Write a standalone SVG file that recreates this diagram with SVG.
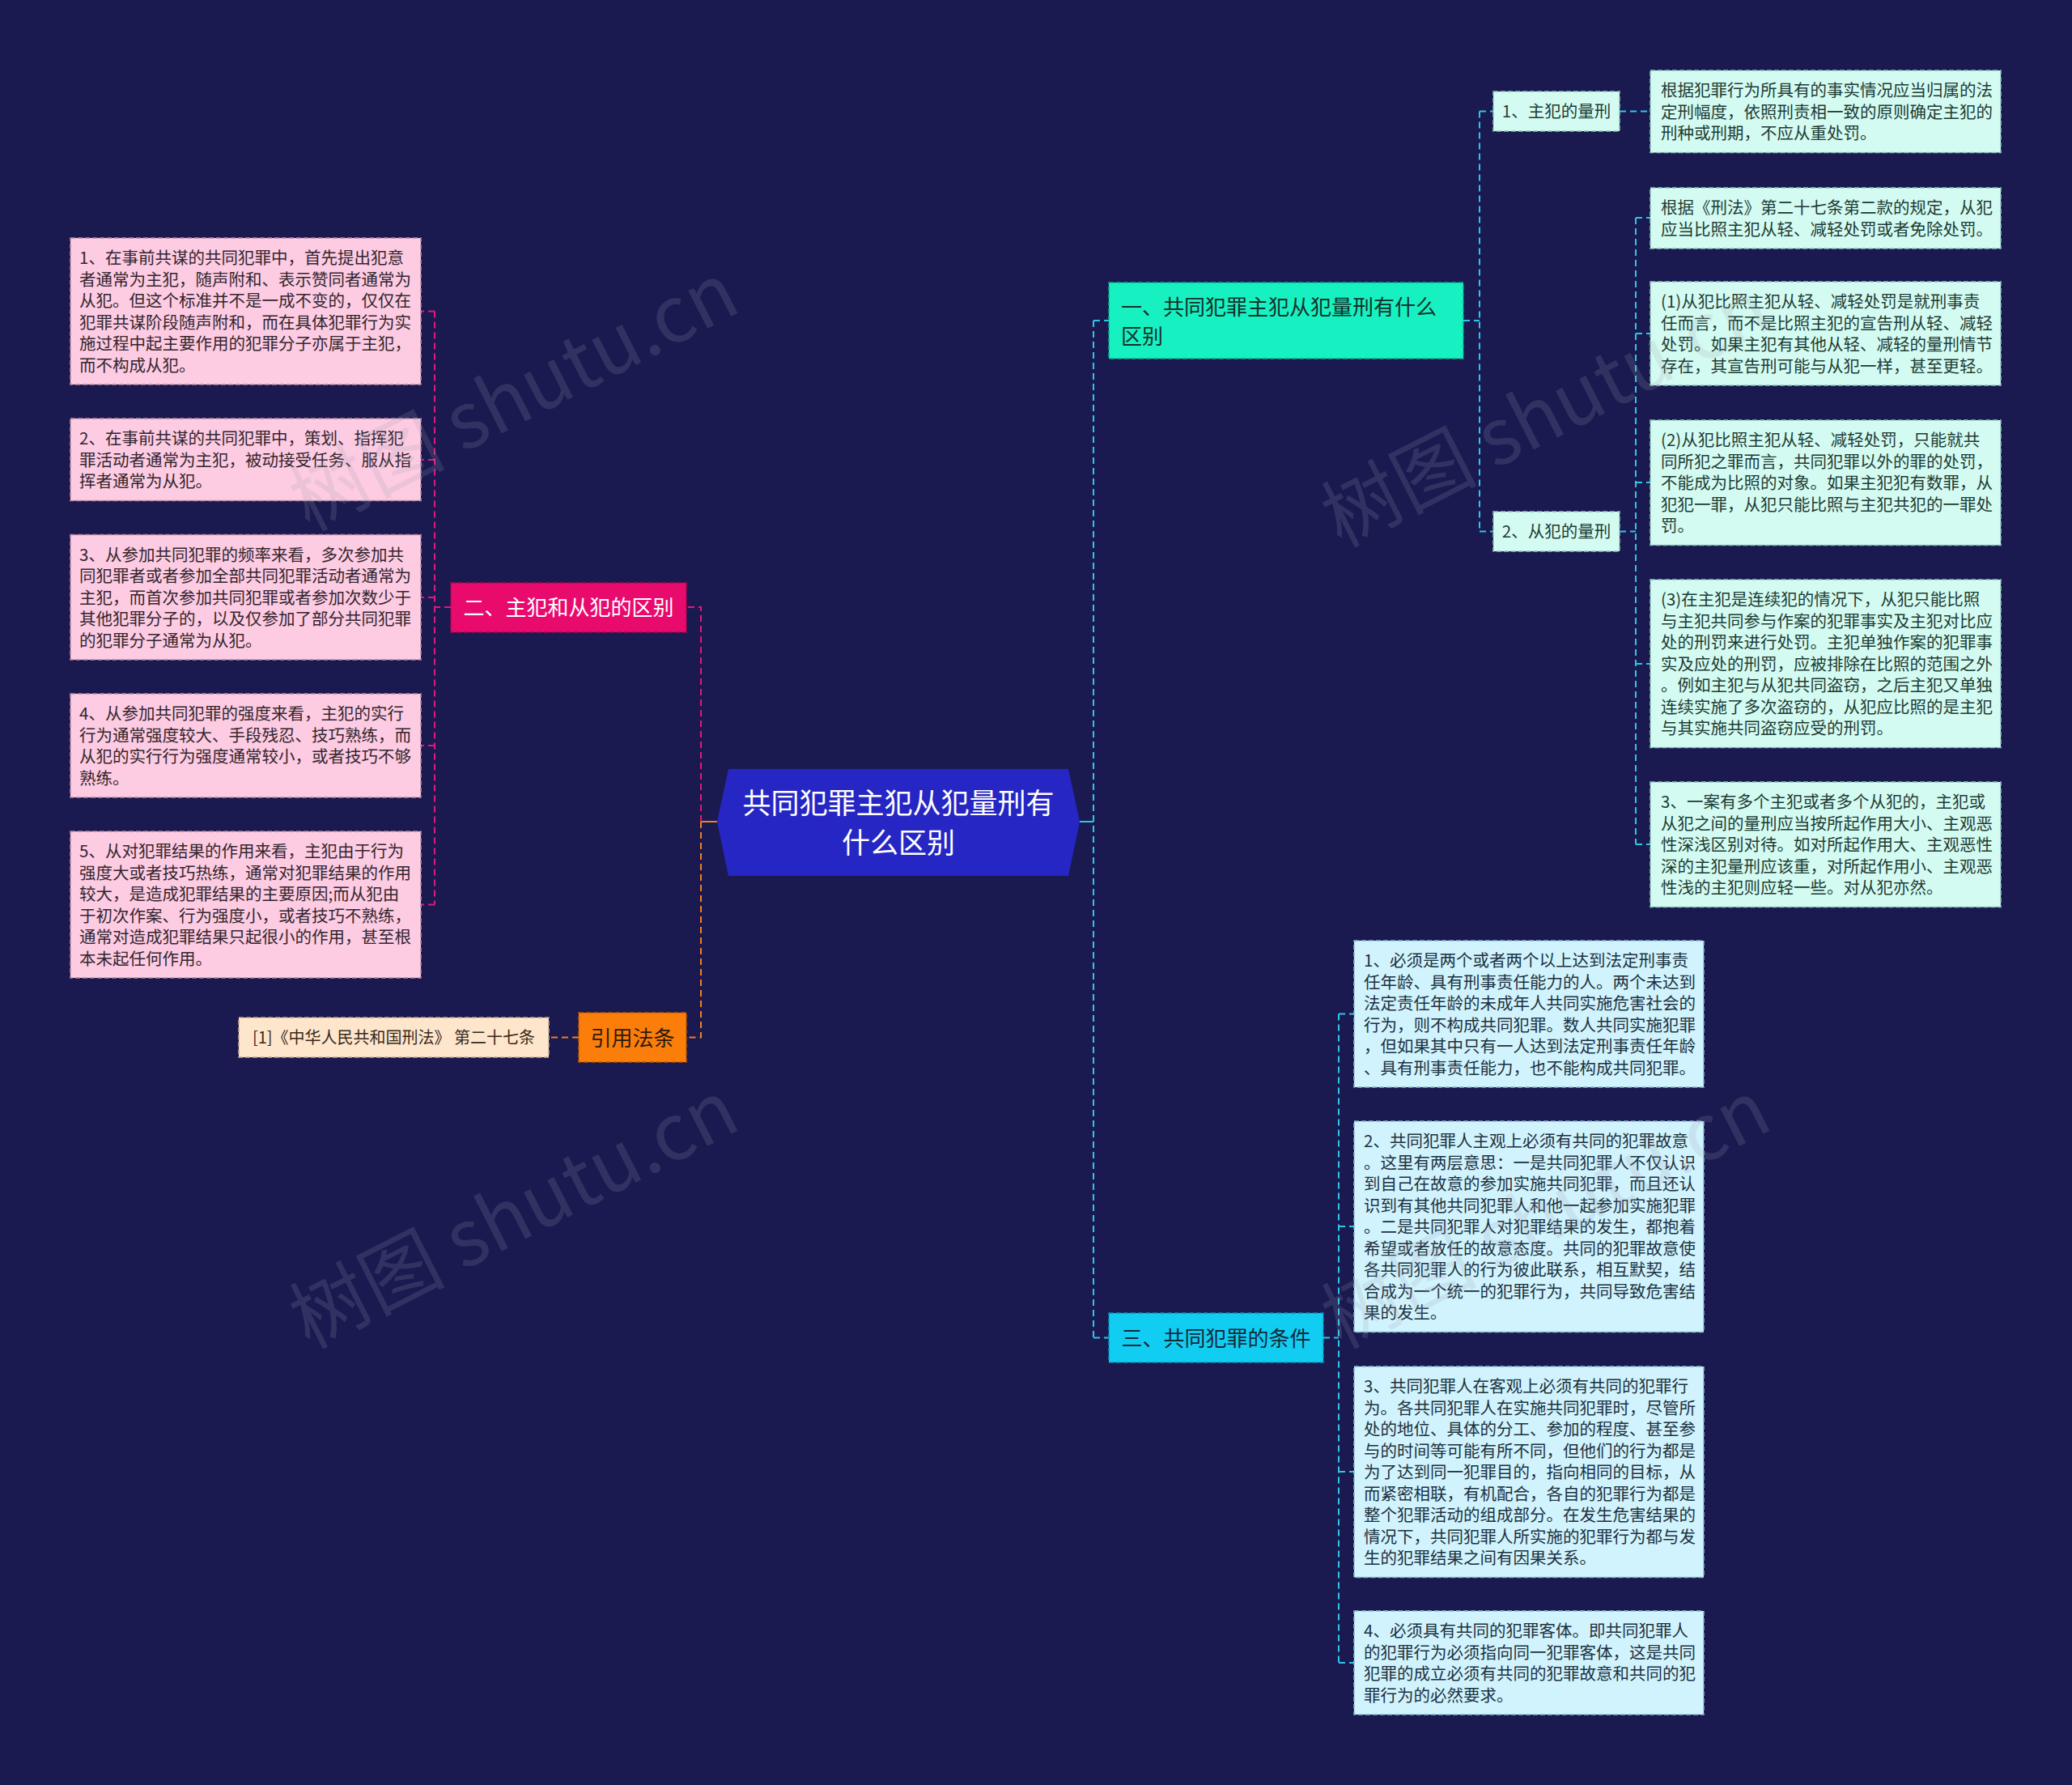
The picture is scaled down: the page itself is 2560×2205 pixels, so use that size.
<svg xmlns="http://www.w3.org/2000/svg" width="2560" height="2205" viewBox="0 0 2560 2205">
<style>
text{font-family:"Noto Sans CJK SC","Liberation Sans",sans-serif;}
.leaf{font-size:20.5px;}
.pl{fill:#fdcbe2;stroke:#b88aa2;stroke-width:1.5;stroke-dasharray:6 3;}
.ml{fill:#d4fbf1;stroke:#8cc4b8;stroke-width:1.5;stroke-dasharray:6 3;}
.bl{fill:#d0f3fd;stroke:#8ab8cc;stroke-width:1.5;stroke-dasharray:6 3;}
.pt{fill:#33262e;}
.mt{fill:#1d3b35;}
.bt{fill:#1d3140;}
.cp{fill:none;stroke:#e0197c;stroke-width:2;stroke-dasharray:8 5;}
.co{fill:none;stroke:#f08020;stroke-width:2;stroke-dasharray:8 5;}
.cc{fill:none;stroke:#2cc6e6;stroke-width:2;stroke-dasharray:8 5;}
.wm{font-size:96px;fill:#a0a0b4;opacity:0.18;}
</style>
<rect width="2560" height="2205" fill="#1a1a50"/>

<g id="connectors">
  <path class="co" d="M866 1015 H886" style="stroke-dasharray:none"/>
  <path class="cp" d="M866 1015 V750 H848"/>
  <path class="co" d="M866 1015 V1281.5 H848"/>
  <path class="co" d="M715 1281.5 H678"/>
  <path class="cp" d="M557 750 H537"/>
  <path class="cp" d="M537 384.5 V1117.5"/>
  <path class="cp" d="M537 384.5 H520 M537 568 H520 M537 738 H520 M537 921 H520 M537 1117.5 H520"/>
  <path class="cc" d="M1334 1015 H1351" style="stroke-dasharray:none"/>
  <path class="cc" d="M1351 396 V1652.5"/>
  <path class="cc" d="M1351 396 H1370 M1351 1652.5 H1370"/>
  <path class="cc" d="M1808 396 H1828 M1828 137.5 V656.5 M1828 137.5 H1845 M1828 656.5 H1845"/>
  <path class="cc" d="M2001 137.5 H2039"/>
  <path class="cc" d="M2001 656.5 H2021 M2021 269 V1043 M2021 269 H2039 M2021 412 H2039 M2021 596 H2039 M2021 820 H2039 M2021 1043 H2039"/>
  <path class="cc" d="M1635 1652.5 H1654 M1654 1252.5 V2054 M1654 1252.5 H1673 M1654 1515 H1673 M1654 1818 H1673 M1654 2054 H1673"/>
</g>

<g id="center">
  <polygon points="900,950 1320,950 1334,1015 1320,1082 900,1082 886,1015" fill="#2626c4"/>
  <text x="1110" y="1005" font-size="35" fill="#ffffff" text-anchor="middle">共同犯罪主犯从犯量刑有</text>
  <text x="1110" y="1054" font-size="35" fill="#ffffff" text-anchor="middle">什么区别</text>
</g>

<g id="branch2">
  <rect x="557" y="720" width="291" height="61" fill="#e90a6e" stroke="#a8084e" stroke-width="1.5" stroke-dasharray="6 3"/>
  <text x="702.5" y="760" font-size="26" fill="#ffffff" text-anchor="middle">二、主犯和从犯的区别</text>
</g>

<g id="leafL1">
  <rect class="pl" x="87" y="294" width="433" height="181"/>
  <text class="leaf pt" x="98" y="326"><tspan x="98">1、在事前共谋的共同犯罪中，首先提出犯意</tspan><tspan x="98" dy="26.5">者通常为主犯，随声附和、表示赞同者通常为</tspan><tspan x="98" dy="26.5">从犯。但这个标准并不是一成不变的，仅仅在</tspan><tspan x="98" dy="26.5">犯罪共谋阶段随声附和，而在具体犯罪行为实</tspan><tspan x="98" dy="26.5">施过程中起主要作用的犯罪分子亦属于主犯，</tspan><tspan x="98" dy="26.5">而不构成从犯。</tspan></text>
</g>
<g id="leafL2">
  <rect class="pl" x="87" y="517" width="433" height="101.5"/>
  <text class="leaf pt" x="98" y="549"><tspan x="98">2、在事前共谋的共同犯罪中，策划、指挥犯</tspan><tspan x="98" dy="26.5">罪活动者通常为主犯，被动接受任务、服从指</tspan><tspan x="98" dy="26.5">挥者通常为从犯。</tspan></text>
</g>
<g id="leafL3">
  <rect class="pl" x="87" y="660.5" width="433" height="154.5"/>
  <text class="leaf pt" x="98" y="692.5"><tspan x="98">3、从参加共同犯罪的频率来看，多次参加共</tspan><tspan x="98" dy="26.5">同犯罪者或者参加全部共同犯罪活动者通常为</tspan><tspan x="98" dy="26.5">主犯，而首次参加共同犯罪或者参加次数少于</tspan><tspan x="98" dy="26.5">其他犯罪分子的，以及仅参加了部分共同犯罪</tspan><tspan x="98" dy="26.5">的犯罪分子通常为从犯。</tspan></text>
</g>
<g id="leafL4">
  <rect class="pl" x="87" y="857" width="433" height="128"/>
  <text class="leaf pt" x="98" y="889"><tspan x="98">4、从参加共同犯罪的强度来看，主犯的实行</tspan><tspan x="98" dy="26.5">行为通常强度较大、手段残忍、技巧熟练，而</tspan><tspan x="98" dy="26.5">从犯的实行行为强度通常较小，或者技巧不够</tspan><tspan x="98" dy="26.5">熟练。</tspan></text>
</g>
<g id="leafL5">
  <rect class="pl" x="87" y="1027" width="433" height="181"/>
  <text class="leaf pt" x="98" y="1059"><tspan x="98">5、从对犯罪结果的作用来看，主犯由于行为</tspan><tspan x="98" dy="26.5">强度大或者技巧热练，通常对犯罪结果的作用</tspan><tspan x="98" dy="26.5">较大，是造成犯罪结果的主要原因;而从犯由</tspan><tspan x="98" dy="26.5">于初次作案、行为强度小，或者技巧不熟练，</tspan><tspan x="98" dy="26.5">通常对造成犯罪结果只起很小的作用，甚至根</tspan><tspan x="98" dy="26.5">本未起任何作用。</tspan></text>
</g>

<g id="refnode">
  <rect x="715" y="1251" width="133" height="61" fill="#fb7d0a" stroke="#b85a00" stroke-width="1.5" stroke-dasharray="6 3"/>
  <text x="781.5" y="1291.5" font-size="26" fill="#2d1a0a" text-anchor="middle">引用法条</text>
</g>
<g id="refleaf">
  <rect x="295" y="1257" width="383" height="49" fill="#fde6cc" stroke="#c8a888" stroke-width="1.5" stroke-dasharray="6 3"/>
  <text x="486.5" y="1289" font-size="20" fill="#3a2a1a" text-anchor="middle">[1]《中华人民共和国刑法》 第二十七条</text>
</g>

<g id="branch1">
  <rect x="1370" y="349" width="438" height="94" fill="#17f1c1" stroke="#0aa888" stroke-width="1.5" stroke-dasharray="6 3"/>
  <text x="1385" y="389" font-size="26" fill="#13302a"><tspan x="1385">一、共同犯罪主犯从犯量刑有什么</tspan><tspan x="1385" dy="36">区别</tspan></text>
</g>
<g id="sub1">
  <rect class="ml" x="1845" y="113" width="156" height="49"/>
  <text class="leaf mt" x="1923" y="145" text-anchor="middle">1、主犯的量刑</text>
</g>
<g id="sub2">
  <rect class="ml" x="1845" y="632" width="156" height="49"/>
  <text class="leaf mt" x="1923" y="664" text-anchor="middle">2、从犯的量刑</text>
</g>
<g id="leafR1">
  <rect class="ml" x="2039" y="87" width="433" height="101.5"/>
  <text class="leaf mt" x="2052" y="119"><tspan x="2052">根据犯罪行为所具有的事实情况应当归属的法</tspan><tspan x="2052" dy="26.5">定刑幅度，依照刑责相一致的原则确定主犯的</tspan><tspan x="2052" dy="26.5">刑种或刑期，不应从重处罚。</tspan></text>
</g>
<g id="leafR2">
  <rect class="ml" x="2039" y="232" width="433" height="75"/>
  <text class="leaf mt" x="2052" y="264"><tspan x="2052">根据《刑法》第二十七条第二款的规定，从犯</tspan><tspan x="2052" dy="26.5">应当比照主犯从轻、减轻处罚或者免除处罚。</tspan></text>
</g>
<g id="leafR3">
  <rect class="ml" x="2039" y="348" width="433" height="128"/>
  <text class="leaf mt" x="2052" y="380"><tspan x="2052">(1)从犯比照主犯从轻、减轻处罚是就刑事责</tspan><tspan x="2052" dy="26.5">任而言，而不是比照主犯的宣告刑从轻、减轻</tspan><tspan x="2052" dy="26.5">处罚。如果主犯有其他从轻、减轻的量刑情节</tspan><tspan x="2052" dy="26.5">存在，其宣告刑可能与从犯一样，甚至更轻。</tspan></text>
</g>
<g id="leafR4">
  <rect class="ml" x="2039" y="519" width="433" height="154.5"/>
  <text class="leaf mt" x="2052" y="551"><tspan x="2052">(2)从犯比照主犯从轻、减轻处罚，只能就共</tspan><tspan x="2052" dy="26.5">同所犯之罪而言，共同犯罪以外的罪的处罚，</tspan><tspan x="2052" dy="26.5">不能成为比照的对象。如果主犯犯有数罪，从</tspan><tspan x="2052" dy="26.5">犯犯一罪，从犯只能比照与主犯共犯的一罪处</tspan><tspan x="2052" dy="26.5">罚。</tspan></text>
</g>
<g id="leafR5">
  <rect class="ml" x="2039" y="716" width="433" height="207.5"/>
  <text class="leaf mt" x="2052" y="748"><tspan x="2052">(3)在主犯是连续犯的情况下，从犯只能比照</tspan><tspan x="2052" dy="26.5">与主犯共同参与作案的犯罪事实及主犯对比应</tspan><tspan x="2052" dy="26.5">处的刑罚来进行处罚。主犯单独作案的犯罪事</tspan><tspan x="2052" dy="26.5">实及应处的刑罚，应被排除在比照的范围之外</tspan><tspan x="2052" dy="26.5">。例如主犯与从犯共同盗窃，之后主犯又单独</tspan><tspan x="2052" dy="26.5">连续实施了多次盗窃的，从犯应比照的是主犯</tspan><tspan x="2052" dy="26.5">与其实施共同盗窃应受的刑罚。</tspan></text>
</g>
<g id="leafR6">
  <rect class="ml" x="2039" y="966" width="433" height="154.5"/>
  <text class="leaf mt" x="2052" y="998"><tspan x="2052">3、一案有多个主犯或者多个从犯的，主犯或</tspan><tspan x="2052" dy="26.5">从犯之间的量刑应当按所起作用大小、主观恶</tspan><tspan x="2052" dy="26.5">性深浅区别对待。如对所起作用大、主观恶性</tspan><tspan x="2052" dy="26.5">深的主犯量刑应该重，对所起作用小、主观恶</tspan><tspan x="2052" dy="26.5">性浅的主犯则应轻一些。对从犯亦然。</tspan></text>
</g>

<g id="branch3">
  <rect x="1370" y="1622" width="265" height="61" fill="#12cdf2" stroke="#0890b0" stroke-width="1.5" stroke-dasharray="6 3"/>
  <text x="1502.5" y="1662.5" font-size="26" fill="#132a38" text-anchor="middle">三、共同犯罪的条件</text>
</g>
<g id="leafC1">
  <rect class="bl" x="1673" y="1162" width="432" height="181"/>
  <text class="leaf bt" x="1685" y="1194"><tspan x="1685">1、必须是两个或者两个以上达到法定刑事责</tspan><tspan x="1685" dy="26.5">任年龄、具有刑事责任能力的人。两个未达到</tspan><tspan x="1685" dy="26.5">法定责任年龄的未成年人共同实施危害社会的</tspan><tspan x="1685" dy="26.5">行为，则不构成共同犯罪。数人共同实施犯罪</tspan><tspan x="1685" dy="26.5">，但如果其中只有一人达到法定刑事责任年龄</tspan><tspan x="1685" dy="26.5">、具有刑事责任能力，也不能构成共同犯罪。</tspan></text>
</g>
<g id="leafC2">
  <rect class="bl" x="1673" y="1385" width="432" height="260.5"/>
  <text class="leaf bt" x="1685" y="1417"><tspan x="1685">2、共同犯罪人主观上必须有共同的犯罪故意</tspan><tspan x="1685" dy="26.5">。这里有两层意思：一是共同犯罪人不仅认识</tspan><tspan x="1685" dy="26.5">到自己在故意的参加实施共同犯罪，而且还认</tspan><tspan x="1685" dy="26.5">识到有其他共同犯罪人和他一起参加实施犯罪</tspan><tspan x="1685" dy="26.5">。二是共同犯罪人对犯罪结果的发生，都抱着</tspan><tspan x="1685" dy="26.5">希望或者放任的故意态度。共同的犯罪故意使</tspan><tspan x="1685" dy="26.5">各共同犯罪人的行为彼此联系，相互默契，结</tspan><tspan x="1685" dy="26.5">合成为一个统一的犯罪行为，共同导致危害结</tspan><tspan x="1685" dy="26.5">果的发生。</tspan></text>
</g>
<g id="leafC3">
  <rect class="bl" x="1673" y="1688" width="432" height="260.5"/>
  <text class="leaf bt" x="1685" y="1720"><tspan x="1685">3、共同犯罪人在客观上必须有共同的犯罪行</tspan><tspan x="1685" dy="26.5">为。各共同犯罪人在实施共同犯罪时，尽管所</tspan><tspan x="1685" dy="26.5">处的地位、具体的分工、参加的程度、甚至参</tspan><tspan x="1685" dy="26.5">与的时间等可能有所不同，但他们的行为都是</tspan><tspan x="1685" dy="26.5">为了达到同一犯罪目的，指向相同的目标，从</tspan><tspan x="1685" dy="26.5">而紧密相联，有机配合，各自的犯罪行为都是</tspan><tspan x="1685" dy="26.5">整个犯罪活动的组成部分。在发生危害结果的</tspan><tspan x="1685" dy="26.5">情况下，共同犯罪人所实施的犯罪行为都与发</tspan><tspan x="1685" dy="26.5">生的犯罪结果之间有因果关系。</tspan></text>
</g>
<g id="leafC4">
  <rect class="bl" x="1673" y="1990" width="432" height="128"/>
  <text class="leaf bt" x="1685" y="2022"><tspan x="1685">4、必须具有共同的犯罪客体。即共同犯罪人</tspan><tspan x="1685" dy="26.5">的犯罪行为必须指向同一犯罪客体，这是共同</tspan><tspan x="1685" dy="26.5">犯罪的成立必须有共同的犯罪故意和共同的犯</tspan><tspan x="1685" dy="26.5">罪行为的必然要求。</tspan></text>
</g>

<g id="watermarks">
  <text class="wm" x="0" y="0" text-anchor="middle" transform="translate(650 520) rotate(-27)">树图 shutu.cn</text>
  <text class="wm" x="0" y="0" text-anchor="middle" transform="translate(650 1530) rotate(-27)">树图 shutu.cn</text>
  <text class="wm" x="0" y="0" text-anchor="middle" transform="translate(1925 540) rotate(-27)">树图 shutu.cn</text>
  <text class="wm" x="0" y="0" text-anchor="middle" transform="translate(1925 1530) rotate(-27)">树图 shutu.cn</text>
</g>
</svg>
